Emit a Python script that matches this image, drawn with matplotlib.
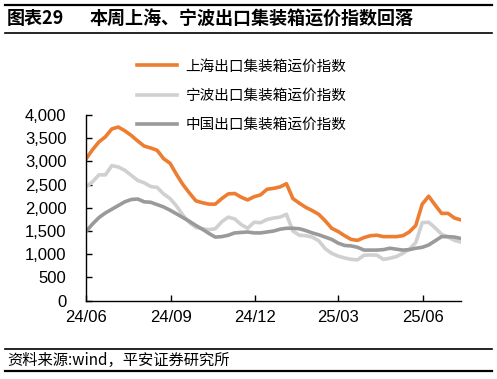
import matplotlib
matplotlib.use("Agg")
import matplotlib.pyplot as plt
import pandas as pd

plt.rcParams['font.family'] = ['Liberation Sans', 'Noto Sans CJK SC', 'DejaVu Sans']

dates = pd.date_range('2024-06-01', periods=59, freq='7D')

shanghai = [3050, 3250, 3420, 3530, 3700, 3740, 3660, 3560, 3440, 3330,
            3290, 3240, 3060, 2960, 2720, 2500, 2320, 2150, 2110, 2080,
            2080, 2200, 2300, 2310, 2230, 2170, 2240, 2280, 2400, 2420,
            2450, 2520, 2200, 2100, 2010, 1940, 1860, 1720, 1560, 1490,
            1400, 1320, 1300, 1360, 1400, 1410, 1380, 1380, 1380, 1400,
            1480, 1620, 2080, 2250, 2060, 1880, 1880, 1780, 1740]

ningbo = [2450, 2560, 2710, 2710, 2910, 2880, 2810, 2700, 2590, 2540,
          2460, 2440, 2300, 2200, 2040, 1840, 1680, 1580, 1550, 1530,
          1550, 1700, 1800, 1760, 1640, 1560, 1690, 1680, 1750, 1780,
          1800, 1860, 1500, 1410, 1400, 1370, 1290, 1120, 1020, 960,
          920, 890, 880, 980, 985, 980, 890, 915, 950, 1020,
          1110, 1250, 1680, 1690, 1570, 1430, 1370, 1300, 1260]

china = [1490, 1650, 1790, 1890, 1970, 2050, 2130, 2180, 2190, 2130,
         2120, 2070, 2020, 1950, 1870, 1790, 1710, 1620, 1540, 1450,
         1370, 1380, 1410, 1460, 1470, 1480, 1460, 1460, 1480, 1500,
         1540, 1560, 1560, 1550, 1510, 1460, 1420, 1370, 1320, 1240,
         1190, 1180, 1150, 1090, 1090, 1090, 1100, 1130, 1110, 1090,
         1100, 1130, 1150, 1200, 1290, 1380, 1380, 1370, 1340]

labels = ['上海出口集装箱运价指数', '宁波出口集装箱运价指数', '中国出口集装箱运价指数']
colors = ['#ED7D31', '#D0D0D0', '#9A9A9A']
xticks = ['2024-06-01', '2024-09-01', '2024-12-01', '2025-03-01', '2025-06-01']
xticklabels = ['24/06', '24/09', '24/12', '25/03', '25/06']
yticks = [0, 500, 1000, 1500, 2000, 2500, 3000, 3500, 4000]

fig = plt.figure(figsize=(4.97, 3.79), dpi=100)
ax = fig.add_axes([0.173, 0.2066, 0.7546, 0.49])

lines = []
for series, lab, col in zip([shanghai, ningbo, china], labels, colors):
    ln, = ax.plot(dates, series, color=col, lw=2.6, label=lab, solid_joinstyle='round')
    lines.append(ln)

ax.set_xlim(pd.Timestamp('2024-06-01'), dates[-1])
ax.set_ylim(0, 4000)
ax.set_yticks(yticks)
ax.set_yticklabels([f'{v:,}' for v in yticks])
ax.set_xticks([pd.Timestamp(d) for d in xticks])
ax.set_xticklabels(xticklabels)
ax.tick_params(axis='both', direction='in', length=4, width=1, labelsize=12, colors='black')
ax.tick_params(axis='x', pad=7)
ax.tick_params(axis='y', pad=14)
for s in ['top', 'right']:
    ax.spines[s].set_visible(False)
for s in ['left', 'bottom']:
    ax.spines[s].set_linewidth(1.0)
    ax.spines[s].set_color('black')

fig.legend(handles=lines, labels=labels, loc='upper left',
           bbox_to_anchor=(0.25, 0.878), frameon=False,
           handlelength=2.75, handletextpad=0.55, labelspacing=1.06,
           prop={'family': ['Noto Sans CJK SC'], 'size': 10.5})

# title bar
fig.add_artist(plt.Line2D([0.01, 0.99], [1 - 5/379, 1 - 5/379], color='black', lw=1.6))
fig.add_artist(plt.Line2D([0.01, 0.99], [1 - 33/379, 1 - 33/379], color='black', lw=1.2))
fig.text(0.014, 1 - 19/379, '图表29', fontsize=13, fontweight='bold', va='center',
         family=['Noto Sans CJK SC'])
fig.text(0.181, 1 - 19/379, '本周上海、宁波出口集装箱运价指数回落', fontsize=13,
         fontweight='bold', va='center', family=['Noto Sans CJK SC'])

# source bar
fig.add_artist(plt.Line2D([0.01, 0.99], [1 - 349/379, 1 - 349/379], color='black', lw=1.2))
fig.add_artist(plt.Line2D([0.01, 0.99], [1 - 371/379, 1 - 371/379], color='black', lw=1.6))
fig.text(0.014, 1 - 360/379, '资料来源:wind，平安证券研究所', fontsize=11, style='italic',
         va='center', family=['Noto Sans CJK SC'])

fig.savefig('out.png', dpi=100)
